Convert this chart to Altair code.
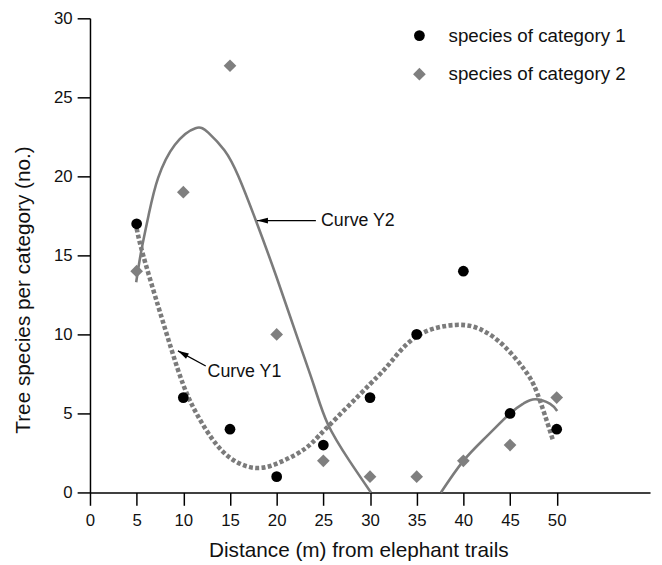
import altair as alt
import pandas as pd

# ---- data ----
distance = [5, 10, 15, 20, 25, 30, 35, 40, 45, 50]
cat1 = [17, 6, 4, 1, 3, 6, 10, 14, 5, 4]
cat2 = [14, 19, 27, 10, 2, 1, 1, 2, 3, 6]
series_names = ["species of category 1", "species of category 2"]

# Curve Y1 (dotted)
y1_x = [5.0, 5.7, 7.3, 8.7, 10.0, 11.5, 13.6, 15.8, 18.2, 20.7, 23.0, 25.3, 30.0, 32.3, 35.2, 39.2, 41.9, 44.3, 46.5, 47.9, 49.6]
y1_y = [16.7, 15.0, 11.8, 9.1, 6.8, 4.9, 3.0, 1.9, 1.55, 2.0, 2.75, 4.05, 6.85, 8.3, 9.95, 10.6, 10.3, 9.3, 7.8, 6.3, 3.3]

# Curve Y2 (solid), two visible pieces above zero
y2a_x = [4.95, 5.5, 6.3, 7.3, 9.1, 11.3, 12.7, 14.4, 15.9, 17.9, 20.0, 22.1, 24.0, 25.5, 27.8, 30.1]
y2a_y = [13.3, 15.3, 17.6, 19.9, 22.0, 23.05, 22.75, 21.65, 20.0, 17.0, 13.6, 10.0, 6.75, 4.3, 2.0, 0.0]
y2b_x = [37.6, 40.0, 42.5, 45.0, 46.45, 47.7, 49.3, 50.05]
y2b_y = [0.0, 2.0, 3.55, 5.0, 5.63, 5.9, 5.6, 5.15]

# annotations
annot_labels = ["Curve Y2", "Curve Y1"]
annot_text_x = [24.75, 12.6]
annot_text_y = [17.2, 7.64]
arrow_tail_x = [24.2, 12.4]
arrow_tail_y = [17.2, 8.0]
arrow_tip_x = [17.9, 9.42]
arrow_tip_y = [17.2, 8.96]
arrow_angle = [270, 298.5]

x_ticks = [0, 5, 10, 15, 20, 25, 30, 35, 40, 45, 50]
y_ticks = [0, 5, 10, 15, 20, 25, 30]

FONT = "Liberation Sans"
GREY = "#7b7b7b"
TXT = "#111111"

# ---- tables ----
df_pts = pd.DataFrame({
    "x": distance * 2,
    "y": cat1 + cat2,
    "series": [series_names[0]] * len(cat1) + [series_names[1]] * len(cat2),
})
df_y1 = pd.DataFrame({"x": y1_x, "y": y1_y})
df_y2 = pd.DataFrame({
    "x": y2a_x + y2b_x,
    "y": y2a_y + y2b_y,
    "seg": ["a"] * len(y2a_x) + ["b"] * len(y2b_x),
})
df_ann = pd.DataFrame({
    "label": annot_labels,
    "tx": annot_text_x,
    "ty": annot_text_y,
    "x": arrow_tail_x,
    "y": arrow_tail_y,
    "x2": arrow_tip_x,
    "y2": arrow_tip_y,
    "ang": arrow_angle,
})

xscale = alt.Scale(domain=[0, 60], nice=False, zero=False)
yscale = alt.Scale(domain=[0, 30], nice=False, zero=False)

axis_common = dict(
    grid=False, tickSize=13, tickColor="black", tickWidth=1.5,
    domainColor="black", domainWidth=1.5,
    labelFont=FONT, labelFontSize=17, labelColor=TXT,
    titleFont=FONT, titleFontSize=21, titleColor=TXT, titleFontWeight="normal",
    labelFlush=False, labelOverlap=False,
)
xaxis = alt.Axis(values=x_ticks, title="Distance (m) from elephant trails",
                 labelPadding=7, titleX=120, titleY=65, titleAlign="left",
                 titleBaseline="alphabetic", titleAnchor="start", **axis_common)
yaxis = alt.Axis(values=y_ticks, title="Tree species per category (no.)",
                 labelPadding=5, titleX=-61, titleY=420, titleAngle=270,
                 titleAlign="left", titleBaseline="alphabetic", titleAnchor="start",
                 **axis_common)

X = alt.X("x:Q", scale=xscale, axis=xaxis)
Y = alt.Y("y:Q", scale=yscale, axis=yaxis)

curve_y2 = alt.Chart(df_y2).mark_line(
    color=GREY, strokeWidth=2.6, interpolate="natural"
).encode(x=X, y=Y, detail="seg:N")

curve_y1 = alt.Chart(df_y1).mark_line(
    color=GREY, strokeWidth=4.6, strokeDash=[4, 2.4], interpolate="natural"
).encode(x=X, y=Y)

legend = alt.Legend(orient="none", legendX=324, legendY=8, title=None,
                    labelFont=FONT, labelFontSize=19, labelColor=TXT, labelLimit=0,
                    symbolSize=130, labelOffset=20, rowPadding=19,
                    padding=0, symbolStrokeWidth=0)

points = alt.Chart(df_pts).mark_point(filled=True, opacity=1).encode(
    x=X, y=Y,
    color=alt.Color("series:N",
                    scale=alt.Scale(domain=series_names, range=["black", "#7f7f7f"]),
                    legend=legend),
    shape=alt.Shape("series:N",
                    scale=alt.Scale(domain=series_names, range=["circle", "diamond"]),
                    legend=legend),
    size=alt.Size("series:N",
                  scale=alt.Scale(domain=series_names, range=[118, 165]),
                  legend=None),
)

arrows = alt.Chart(df_ann).mark_rule(color="black", strokeWidth=1.3).encode(
    x=X, y=Y, x2="x2:Q", y2="y2:Q"
)
heads = alt.Chart(df_ann).mark_point(
    shape="M0,0L0.55,2L-0.55,2Z", filled=True, color="black", opacity=1, size=121
).encode(
    x=alt.X("x2:Q", scale=xscale, axis=xaxis),
    y=alt.Y("y2:Q", scale=yscale, axis=yaxis),
    angle=alt.Angle("ang:Q", scale=None),
)
labels = alt.Chart(df_ann).mark_text(
    align="left", baseline="middle", font=FONT, fontSize=18, color=TXT
).encode(
    x=alt.X("tx:Q", scale=xscale, axis=xaxis),
    y=alt.Y("ty:Q", scale=yscale, axis=yaxis),
    text="label:N",
)

chart = alt.layer(curve_y2, curve_y1, points, arrows, heads, labels).properties(
    width=567, height=480,
    autosize=alt.AutoSizeParams(type="none"),
    padding={"left": 83, "top": 7, "right": 4, "bottom": 70},
    background="white",
).configure_view(stroke=None)

chart.save("out.html", embed_options={"renderer": "svg", "actions": False})
